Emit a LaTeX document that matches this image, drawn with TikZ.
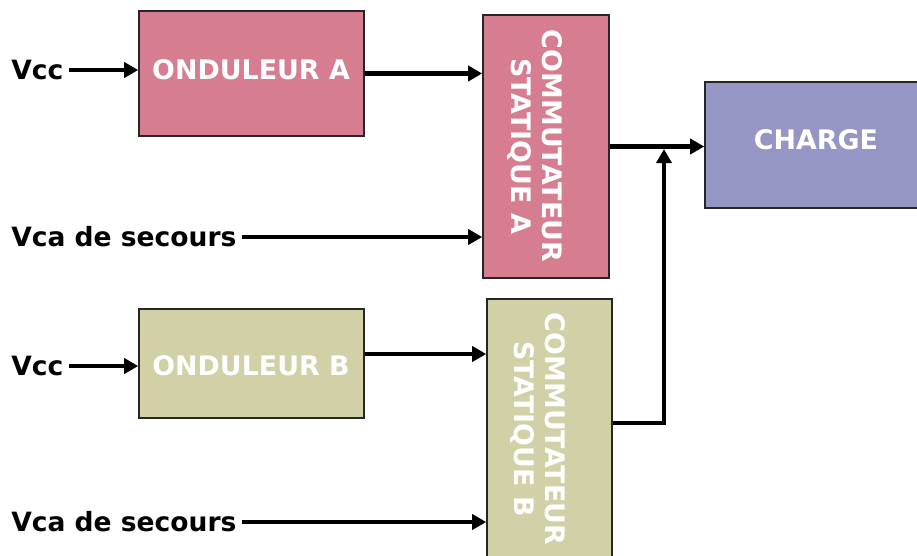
\documentclass[tikz,border=0pt]{standalone}
\usepackage{fontspec}
\setmainfont{DejaVu Sans}
\usetikzlibrary{arrows.meta, positioning, calc}

\definecolor{roseA}{RGB}{214,125,144}
\definecolor{oliveB}{RGB}{209,208,166}
\definecolor{violetC}{RGB}{150,150,198}

\begin{document}
\begin{tikzpicture}[x=0.02cm, y=-0.02cm,
    bloc/.style={draw=black!85, line width=0.9pt, inner sep=0pt},
    titre/.style={text=white, font=\fontsize{15.3}{17.8}\selectfont\bfseries, inner sep=0pt},
    entree/.style={font=\fontsize{15.1}{18}\selectfont\bfseries, inner xsep=3pt, inner ysep=0pt},
    fleche/.style={line width=2.8pt, -{Triangle[length=0.28cm, width=0.3cm]}}]

    \useasboundingbox (0,0) rectangle (917,555);
    \clip (0,0) rectangle (917,555);

    % Voie A
    \node[bloc, fill=roseA, minimum width=4.5cm, minimum height=2.5cm] (ondA) at (251.5,73.5) {};
    \node[titre] (ondAt) at (251,70) {ONDULEUR A};
    \node[bloc, fill=roseA, minimum width=2.52cm, minimum height=5.26cm] (comA) at (546,146.5) {};
    \node[titre, rotate=-90, align=center] (comAt) at (535,146) {COMMUTATEUR\\STATIQUE A};

    % Charge (coupee a droite)
    \node[bloc, fill=violetC, minimum width=4.4cm, minimum height=2.52cm] (charge) at (815,145) {};
    \node[titre] (charget) at (816,140) {CHARGE};

    % Voie B
    \node[bloc, fill=oliveB, minimum width=4.5cm, minimum height=2.18cm] (ondB) at (251.5,363.5) {};
    \node[titre] (ondBt) at (251,366) {ONDULEUR B};
    \node[bloc, fill=oliveB, minimum width=2.5cm, minimum height=5.22cm] (comB) at (549.5,429.5) {};
    \node[titre, rotate=-90, align=center] (comBt) at (538,429) {COMMUTATEUR\\STATIQUE B};

    % Entrees
    \node[entree, anchor=east] (vccA) at (69,70) {Vcc};
    \node[entree, anchor=east] (vcaA) at (242,237) {Vca de secours};
    \node[entree, anchor=east] (vccB) at (69,366) {Vcc};
    \node[entree, anchor=east] (vcaB) at (242,522) {Vca de secours};

    \coordinate (jonction) at (664,149);

    % Liaisons
    \draw[fleche] (vccA.east) -- (ondA.west |- vccA.east);
    \draw[fleche] (ondA.east) -- (comA.west |- ondA.east);
    \draw[fleche] (vcaA.east) -- (comA.west |- vcaA.east);
    \draw[fleche] (comA.east) -- (charge.west |- comA.east);
    \draw[fleche] (vccB.east) -- (ondB.west |- vccB.east);
    \draw[fleche] ($(ondB.east)+(0,-9.5)$) -- (comB.west |- {$(ondB.east)+(0,-9.5)$});
    \draw[fleche] (vcaB.east) -- (comB.west |- vcaB.east);
    \draw[fleche] ($(comB.east)+(0,-6.5)$) -| (jonction);

\end{tikzpicture}
\end{document}
